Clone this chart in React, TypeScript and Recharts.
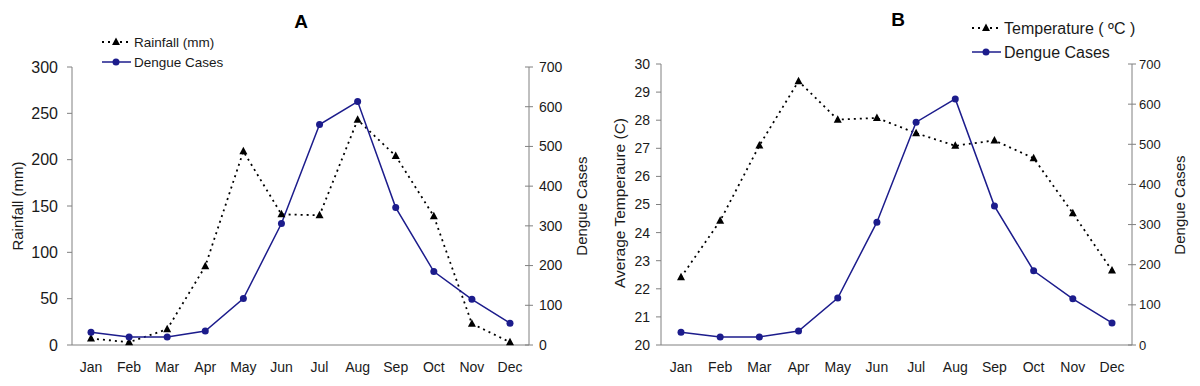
import { LineChart, Line, XAxis, YAxis, Legend } from "recharts"

const months = ["Jan", "Feb", "Mar", "Apr", "May", "Jun", "Jul", "Aug", "Sep", "Oct", "Nov", "Dec"]
const rainfall = [7, 3, 17, 85, 209, 141, 140, 243, 204, 139, 23, 3]
const dengueCases = [32, 20, 20, 35, 117, 306, 555, 613, 346, 185, 115, 55]
const temperature = [22.41, 24.42, 27.1, 29.39, 28.02, 28.08, 27.54, 27.09, 27.28, 26.65, 24.69, 22.65]

const rainfallTicks = [0, 50, 100, 150, 200, 250, 300]
const temperatureTicks = [20, 21, 22, 23, 24, 25, 26, 27, 28, 29, 30]
const caseTicks = [0, 100, 200, 300, 400, 500, 600, 700]
const monthBounds = [0, 1, 2, 3, 4, 5, 6, 7, 8, 9, 10, 11, 12]

const FONT = '"Liberation Sans", Arial, sans-serif'
const AXIS = "#808080"
const TEXT = "#1a1a1a"
const NAVY = "#1c1c8c"

const rowsA = months.map((m, i) => ({ month: m, rain: rainfall[i], cases: dengueCases[i] }))
const rowsB = months.map((m, i) => ({ month: m, temp: temperature[i], cases: dengueCases[i] }))

const Triangle = (props: any) => {
  const { cx, cy, index } = props
  if (cx == null || cy == null) return <g key={`t${index}`} />
  return (
    <polygon
      key={`t${index}`}
      points={`${cx},${cy - 4.5} ${cx + 4},${cy + 3} ${cx - 4},${cy + 3}`}
      fill="#000"
    />
  )
}

// right axis ticks cross the axis line
const crossTick = (margin: number, size: number) => (props: any) => {
  const { x, y, payload } = props
  const ax = x - margin
  return (
    <g>
      <line x1={ax - 4} x2={ax + 4} y1={y} y2={y} stroke={AXIS} />
      <text x={x} y={y} dy="0.35em" textAnchor="start" fontSize={size} fill={TEXT} fontFamily={FONT}>
        {payload.value}
      </text>
    </g>
  )
}

const sideTitle = (text: string, x: number, y: number, size: number) => ({
  value: text,
  content: () => (
    <text
      x={x}
      y={y}
      transform={`rotate(-90 ${x} ${y})`}
      textAnchor="middle"
      dominantBaseline="central"
      fontSize={size}
      fill={TEXT}
      fontFamily={FONT}
    >
      {text}
    </text>
  ),
})

function LegendBox({ first, gap, size }: { first: string; gap: number; size: number }) {
  const y2 = 10 + gap
  return (
    <svg width={190} height={y2 + 10} style={{ display: "block", overflow: "visible" }}>
      <line x1={2} x2={31} y1={10} y2={10} stroke="#000" strokeWidth={1.8} strokeDasharray="2 4" />
      <polygon points="16,5.5 20,13 12,13" fill="#000" />
      <text x={34} y={10} dominantBaseline="central" fontSize={size} fill={TEXT} fontFamily={FONT}>
        {first}
      </text>
      <line x1={2} x2={31} y1={y2} y2={y2} stroke={NAVY} strokeWidth={1.5} />
      <circle cx={16} cy={y2} r={3.5} fill={NAVY} />
      <text x={34} y={y2} dominantBaseline="central" fontSize={size} fill={TEXT} fontFamily={FONT}>
        Dengue Cases
      </text>
    </svg>
  )
}

function Title({ text, left, top }: { text: string; left: number; top: number }) {
  return (
    <div
      style={{
        position: "absolute",
        left: left - 20,
        top,
        width: 40,
        textAlign: "center",
        fontFamily: FONT,
        fontWeight: "bold",
        fontSize: 19,
        lineHeight: "20px",
        color: "#000",
      }}
    >
      {text}
    </div>
  )
}

export default function App() {
  return (
    <div style={{ position: "absolute", left: 0, top: 0, width: 1200, height: 386, background: "#fff", fontFamily: FONT }}>
      <div style={{ position: "absolute", left: 0, top: 0 }}>
        <LineChart width={600} height={386} data={rowsA} margin={{ top: 67, right: 11, bottom: 11, left: 22 }}>
          <XAxis
            xAxisId="bounds"
            type="number"
            domain={[0, 12]}
            ticks={monthBounds}
            allowDataOverflow
            tick={false}
            tickSize={5}
            height={5}
            stroke={AXIS}
          />
          <XAxis
            xAxisId="m"
            dataKey="month"
            padding={{ left: 19, right: 19 }}
            axisLine={false}
            tickLine={false}
            tickSize={0}
            tickMargin={12}
            height={25}
            interval={0}
            tick={{ fontSize: 14, fill: TEXT, fontFamily: FONT }}
          />
          <YAxis
            yAxisId="l"
            domain={[0, 300]}
            ticks={rainfallTicks}
            width={50}
            tickSize={5}
            tickMargin={9}
            stroke={AXIS}
            tick={{ fontSize: 16, fill: TEXT, fontFamily: FONT }}
            label={sideTitle("Rainfall (mm)", 17, 206, 15)}
          />
          <YAxis
            yAxisId="r"
            orientation="right"
            domain={[0, 700]}
            ticks={caseTicks}
            width={60}
            tickSize={0}
            tickMargin={10}
            tickLine={false}
            stroke={AXIS}
            tick={crossTick(10, 14)}
            label={sideTitle("Dengue Cases", 581, 206, 15)}
          />
          <Line
            xAxisId="m"
            yAxisId="l"
            dataKey="rain"
            stroke="#000"
            strokeWidth={1.8}
            strokeDasharray="2 4"
            dot={Triangle}
            activeDot={false}
            isAnimationActive={false}
          />
          <Line
            xAxisId="m"
            yAxisId="r"
            dataKey="cases"
            stroke={NAVY}
            strokeWidth={1.5}
            dot={{ r: 3.5, fill: NAVY, stroke: NAVY, strokeWidth: 0 }}
            activeDot={false}
            isAnimationActive={false}
          />
          <Legend
            layout="vertical"
            align="center"
            verticalAlign="middle"
            wrapperStyle={{ left: 100, top: 32, width: 190 }}
            content={() => <LegendBox first="Rainfall (mm)" gap={20} size={13.5} />}
          />
        </LineChart>
        <Title text="A" left={301} top={12} />
      </div>

      <div style={{ position: "absolute", left: 600, top: 0 }}>
        <LineChart width={600} height={386} data={rowsB} margin={{ top: 64, right: 13, bottom: 11, left: 16 }}>
          <XAxis
            xAxisId="bounds"
            type="number"
            domain={[0, 12]}
            ticks={monthBounds}
            allowDataOverflow
            tick={false}
            tickSize={5}
            height={5}
            stroke={AXIS}
          />
          <XAxis
            xAxisId="m"
            dataKey="month"
            padding={{ left: 20, right: 20 }}
            axisLine={false}
            tickLine={false}
            tickSize={0}
            tickMargin={12}
            height={25}
            interval={0}
            tick={{ fontSize: 14, fill: TEXT, fontFamily: FONT }}
          />
          <YAxis
            yAxisId="l"
            domain={[20, 30]}
            ticks={temperatureTicks}
            width={45}
            tickSize={5}
            tickMargin={6}
            stroke={AXIS}
            tick={{ fontSize: 14, fill: TEXT, fontFamily: FONT }}
            label={sideTitle("Average Temperaure (C)", 19, 203, 15.5)}
          />
          <YAxis
            yAxisId="r"
            orientation="right"
            domain={[0, 700]}
            ticks={caseTicks}
            width={55}
            tickSize={0}
            tickMargin={7}
            tickLine={false}
            stroke={AXIS}
            tick={crossTick(7, 13)}
            label={sideTitle("Dengue Cases", 579, 205, 15)}
          />
          <Line
            xAxisId="m"
            yAxisId="l"
            dataKey="temp"
            stroke="#000"
            strokeWidth={1.8}
            strokeDasharray="2 4"
            dot={Triangle}
            activeDot={false}
            isAnimationActive={false}
          />
          <Line
            xAxisId="m"
            yAxisId="r"
            dataKey="cases"
            stroke={NAVY}
            strokeWidth={1.5}
            dot={{ r: 3.5, fill: NAVY, stroke: NAVY, strokeWidth: 0 }}
            activeDot={false}
            isAnimationActive={false}
          />
          <Legend
            layout="vertical"
            align="center"
            verticalAlign="middle"
            wrapperStyle={{ left: 370, top: 18, width: 190 }}
            content={() => <LegendBox first="Temperature ( ºC )" gap={24} size={16} />}
          />
        </LineChart>
        <Title text="B" left={298} top={10} />
      </div>
    </div>
  )
}
